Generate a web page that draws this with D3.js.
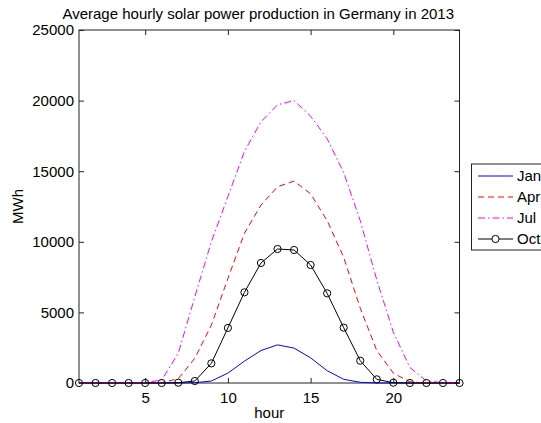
<!DOCTYPE html>
<html><head><meta charset="utf-8">
<script src="https://cdn.jsdelivr.net/npm/d3@7"></script>
<style>body{margin:0;background:#fff}svg{display:block}text{font-family:"Liberation Sans",Arial,sans-serif;fill:#000}</style>
</head><body><svg id="c" width="541" height="423"></svg>
<script>
const hours = d3.range(1, 25);
const jan = [0,0,0,0,0,0,0,20,140,700,1550,2300,2700,2470,1780,870,260,50,0,0,0,0,0,0];
const apr = [0,0,0,0,0,30,300,1750,4100,7400,10600,12600,13900,14300,13400,11500,8900,5300,2300,700,80,0,0,0];
const jul = [0,0,0,0,30,210,2100,6100,10000,13200,16400,18500,19700,20000,18900,17300,14900,11500,7300,3600,1100,150,20,0];
const oct = [0,0,0,0,0,0,20,140,1390,3900,6420,8500,9490,9420,8360,6350,3920,1580,260,20,0,0,0,0];
const seriesNames = ["Jan","Apr","Jul","Oct"];
const xTicks = [5,10,15,20];
const yTicks = [0,5000,10000,15000,20000,25000];

const svg = d3.select("#c");
const L=79, R=459.5, T=30, B=383;
const FS = "15px";
const x = d3.scaleLinear().domain([1,24]).range([L,R]);
const y = d3.scaleLinear().domain([0,25000]).range([B,T]);

const styles = [
  {c:"#0000ff", dash:null},
  {c:"#ff0000", dash:"6,4"},
  {c:"#ff00ff", dash:"7,3,1.5,3"},
  {c:"#000000", dash:null, marker:true}
];
const data = [jan,apr,jul,oct];

svg.append("rect").attr("x",L).attr("y",T).attr("width",R-L).attr("height",B-T)
  .attr("fill","none").attr("stroke","#222").attr("stroke-width",1);

const xb = svg.append("g").attr("transform",`translate(0,${B})`)
  .call(d3.axisBottom(x).tickValues(xTicks).tickSize(-5).tickPadding(9).tickFormat(d3.format("d")));
const xt = svg.append("g").attr("transform",`translate(0,${T})`)
  .call(d3.axisTop(x).tickValues(xTicks).tickSize(-5).tickFormat(""));
const yl = svg.append("g").attr("transform",`translate(${L},0)`)
  .call(d3.axisLeft(y).tickValues(yTicks).tickSize(-5).tickPadding(5).tickFormat(d3.format("d")));
const yr = svg.append("g").attr("transform",`translate(${R},0)`)
  .call(d3.axisRight(y).tickValues(yTicks).tickSize(-5).tickFormat(""));
[xb,xt,yl,yr].forEach(g=>{
  g.select(".domain").remove();
  g.selectAll("line").attr("stroke","#222");
  g.selectAll("text").style("font-size",FS).attr("fill","#000");
});

const line = d3.line().x((d,i)=>x(hours[i])).y(d=>y(d));
data.forEach((s,k)=>{
  const st = styles[k];
  svg.append("path").datum(s).attr("d",line).attr("fill","none")
    .attr("stroke",st.c).attr("stroke-width",1)
    .attr("stroke-dasharray",st.dash);
  if(st.marker){
    svg.append("g").selectAll("circle").data(s).join("circle")
      .attr("cx",(d,i)=>x(hours[i])).attr("cy",d=>y(d)).attr("r",3.6)
      .attr("fill","none").attr("stroke",st.c).attr("stroke-width",1);
  }
});

svg.append("text").attr("x",(L+R)/2 - 11).attr("y",19).attr("text-anchor","middle")
  .style("font-size",FS).text("Average hourly solar power production in Germany in 2013");
svg.append("text").attr("x",(L+R)/2).attr("y",418).attr("text-anchor","middle")
  .style("font-size",FS).text("hour");
svg.append("text").attr("transform",`translate(23,${(T+B)/2}) rotate(-90)`).attr("text-anchor","middle")
  .style("font-size",FS).text("MWh");

const lg = svg.append("g");
lg.append("rect").attr("x",471.5).attr("y",164).attr("width",90).attr("height",86)
  .attr("fill","#fff").attr("stroke","#222");
seriesNames.forEach((n,k)=>{
  const st = styles[k];
  const yy = 176 + k*21;
  lg.append("line").attr("x1",478).attr("x2",513).attr("y1",yy).attr("y2",yy)
    .attr("stroke",st.c).attr("stroke-dasharray",st.dash);
  if(st.marker) lg.append("circle").attr("cx",495.5).attr("cy",yy).attr("r",3.6).attr("fill","#fff").attr("stroke",st.c);
  lg.append("text").attr("x",517).attr("y",yy+5).style("font-size",FS).text(n);
});
</script></body></html>
